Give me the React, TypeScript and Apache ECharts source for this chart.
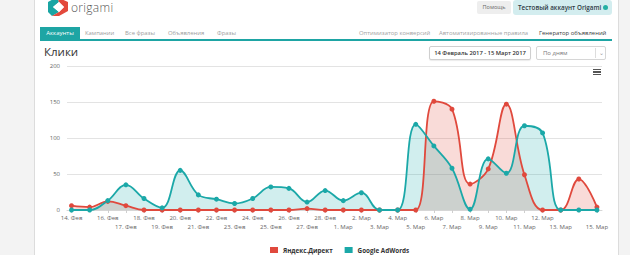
import React, { useEffect, useRef } from "react";
import * as echarts from "echarts";

// Days of the reporting period
const categories = [
  "14. Фев", "15. Фев", "16. Фев", "17. Фев", "18. Фев", "19. Фев", "20. Фев",
  "21. Фев", "22. Фев", "23. Фев", "24. Фев", "25. Фев", "26. Фев", "27. Фев",
  "28. Фев", "1. Мар", "2. Мар", "3. Мар", "4. Мар", "5. Мар", "6. Мар",
  "7. Мар", "8. Мар", "9. Мар", "10. Мар", "11. Мар", "12. Мар", "13. Мар",
  "14. Мар", "15. Мар",
];

// Clicks per day
const yandexClicks = [
  6, 4, 12, 6, 0, 0, 0, 0, 0, 0, 0, 0, 0, 2, 0,
  0, 0, 0, 0, 0, 151, 140, 36, 57, 147, 49, 0, 0, 43, 4,
];
const adwordsClicks = [
  0, 0, 13, 35, 16, 3, 55, 21, 15, 9, 16, 32, 30, 11, 27,
  13, 24, 0, 0, 119, 89, 58, 1, 71, 51, 117, 107, 0, 0, 0,
];

const seriesNames = ["Яндекс.Директ", "Google AdWords"];
const leftTabs = ["Кампании", "Все фразы", "Объявления", "Фразы"];
const rightTabs = ["Оптимизатор конверсий", "Автоматизированные правила", "Генератор объявлений"];

const RED = "#e0493d";
const TEAL = "#1ba8a8";
const FONT = "'Open Sans', 'Noto Sans', sans-serif";

const dayIndex = categories.map((_, i) => i);

export default function App() {
  const ref = useRef<HTMLDivElement>(null);

  useEffect(() => {
    if (!ref.current) return;
    const chart = echarts.init(ref.current, undefined, { renderer: "svg" });
    const mk = (vals: number[]) => vals.map((v, i) => [i, v]);
    chart.setOption({
      animation: false,
      textStyle: { fontFamily: FONT },
      grid: { left: 67, right: 28, top: 66, bottom: 45, containLabel: false },
      legend: {
        left: 265,
        top: 242,
        itemWidth: 8,
        itemHeight: 6,
        itemGap: 12,
        icon: "rect",
        data: seriesNames,
        textStyle: { fontSize: 6.3, fontWeight: "bold", color: "#333", fontFamily: FONT },
      },
      xAxis: {
        type: "value",
        min: -0.25,
        max: 29.28,
        splitLine: { show: false },
        axisLine: { show: true, lineStyle: { color: "#d6d6d6", width: 1 } },
        axisTick: {
          show: true,
          length: 3,
          customValues: dayIndex,
          lineStyle: { color: "#cfcfcf" },
        },
        axisLabel: {
          customValues: dayIndex,
          showMinLabel: true,
          showMaxLabel: true,
          hideOverlap: false,
          margin: 3,
          fontSize: 6,
          lineHeight: 9,
          color: "#666",
          formatter: (v: number) => {
            const i = Math.round(v);
            return i % 2 ? "\n" + categories[i] : categories[i];
          },
        },
      },
      yAxis: {
        type: "value",
        min: 0,
        max: 200,
        interval: 50,
        axisLine: { show: false },
        axisTick: { show: false },
        axisLabel: { fontSize: 6, color: "#666", margin: 7 },
        splitLine: { lineStyle: { color: "#e3e3e3", width: 1 } },
      },
      series: [
        {
          name: seriesNames[0],
          type: "line",
          data: mk(yandexClicks),
          smooth: 0.4,
          symbol: "circle",
          symbolSize: 5,
          color: RED,
          lineStyle: { width: 1.8, color: RED },
          itemStyle: { color: RED },
          areaStyle: { color: RED, opacity: 0.2 },
        },
        {
          name: seriesNames[1],
          type: "line",
          data: mk(adwordsClicks),
          smooth: 0.4,
          symbol: "circle",
          symbolSize: 5,
          color: TEAL,
          lineStyle: { width: 1.8, color: TEAL },
          itemStyle: { color: TEAL },
          areaStyle: { color: TEAL, opacity: 0.2 },
        },
      ],
    });
    return () => chart.dispose();
  }, []);

  const abs = (s: React.CSSProperties): React.CSSProperties => ({ position: "absolute", ...s });
  const tabText: React.CSSProperties = { fontSize: 5.9, color: "#9d9d9d", lineHeight: "12px", whiteSpace: "nowrap" };

  const leftX = [85, 125, 168, 217];
  const rightX = [359, 439, 539];

  return (
    <div style={{ position: "fixed", left: 0, top: 0, width: 630, height: 255, overflow: "hidden", background: "#f3f3f3", fontFamily: FONT }}>
      <div style={abs({ left: 34, top: 0, width: 583, height: 255, background: "#fff", borderLeft: "1px solid #dcdcdc", borderRight: "1px solid #dcdcdc" })} />
      <div ref={ref} style={abs({ left: 0, top: 0, width: 630, height: 255 })} />

      {/* logo */}
      <svg style={abs({ left: 47, top: -3 })} width="22" height="19" viewBox="0 0 22 19">
        <polygon points="1,5 10,0 12,5 6,10 12,15 5,19 1,15" fill="#1aa5a3" />
        <polygon points="10,0 21,5 21,14 12,19 5,19 12,15 17,10 12,5" fill="#e3493c" />
        <polygon points="12,5 17,10 12,15 6,10" fill="#fff" />
      </svg>
      <div style={abs({ left: 71, top: 1, fontSize: 12, color: "#555", letterSpacing: 0.3, fontWeight: 300, lineHeight: "13px" })}>origami</div>

      {/* account buttons */}
      <div style={abs({ left: 477, top: 1, width: 34, height: 13, background: "#eeeeee", borderRadius: 2, fontSize: 5.5, color: "#666", lineHeight: "13px", textAlign: "center" })}>Помощь</div>
      <div style={abs({ left: 513, top: 0, width: 99, height: 15, background: "#d3edef", borderRadius: 3, fontSize: 6.3, fontWeight: 600, color: "#2f3b45", lineHeight: "15px", paddingLeft: 5, boxSizing: "border-box", whiteSpace: "nowrap" })}>
        Тестовый аккаунт Origami
        <span style={{ position: "absolute", left: 90, top: 5, width: 5, height: 5, borderRadius: 3, background: "#22b0a4" }} />
      </div>

      {/* tabs */}
      <div style={abs({ left: 40, top: 27, width: 40, height: 12, background: "#1ea5a4", color: "#fff", fontSize: 6, lineHeight: "12px", textAlign: "center" })}>Аккаунты</div>
      {leftTabs.map((t, i) => (
        <div key={t} style={abs({ left: leftX[i], top: 27, ...tabText })}>{t}</div>
      ))}
      {rightTabs.map((t, i) => (
        <div key={t} style={abs({ left: rightX[i], top: 27, ...tabText, color: i === 2 ? "#3a3a3a" : "#a3a3a3" })}>{t}</div>
      ))}
      <div style={abs({ left: 40, top: 39, width: 572, height: 1.5, background: "#1ea5a4" })} />

      {/* title and controls */}
      <div style={abs({ left: 44, top: 45, fontSize: 11.5, color: "#333", lineHeight: "14px" })}>Клики</div>
      <div style={abs({ left: 429, top: 46, width: 102, height: 14, boxSizing: "border-box", border: "1px solid #cfcfcf", borderRadius: 2, background: "#fff", fontSize: 5.8, fontWeight: 600, color: "#333", lineHeight: "12px", textAlign: "center", whiteSpace: "nowrap", boxShadow: "0 1px 1px rgba(0,0,0,0.08)" })}>14 Февраль 2017 - 15 Март 2017</div>
      <div style={abs({ left: 536, top: 46, width: 70, height: 14, boxSizing: "border-box", border: "1px solid #d6d6d6", borderRadius: 2, background: "#fff", fontSize: 6, color: "#777", lineHeight: "12px", paddingLeft: 6 })}>
        По дням
        <span style={{ position: "absolute", left: 58, top: 1, width: 1, height: 10, background: "#ddd" }} />
        <span style={{ position: "absolute", left: 62, top: 0, fontSize: 6, color: "#999" }}>⌄</span>
      </div>

      {/* chart menu icon */}
      {[69, 71.4, 73.8].map((y) => (
        <div key={y} style={abs({ left: 593, top: y, width: 8, height: 1.3, background: "#555" })} />
      ))}
    </div>
  );
}
